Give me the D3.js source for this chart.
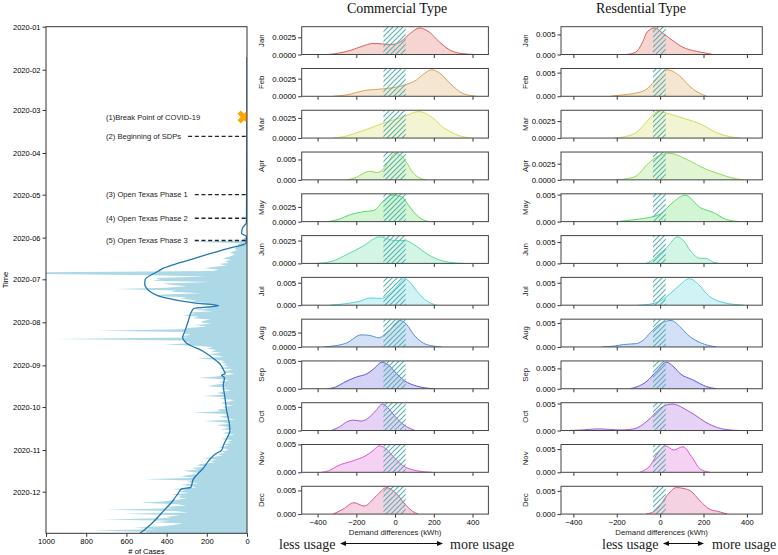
<!DOCTYPE html>
<html><head><meta charset="utf-8">
<script src="https://cdn.jsdelivr.net/npm/d3@7"></script>
<style>
body{margin:0;background:#fff;}
svg{display:block;}
</style></head><body>
<svg id="c" width="778" height="555"></svg>
<script>
// ---------------- DATA ----------------
const monthNames = ["Jan","Feb","Mar","Apr","May","Jun","Jul","Aug","Sep","Oct","Nov","Dec"];
const monthColors = ["#db5f57","#dba157","#d3db57","#91db57","#57db5f","#57dba1","#57d3db","#5791db","#5f57db","#a157db","#db57d3","#db5791"];

// daily COVID cases (left panel), one array per month
const blockStarts = ["2020-06-01","2020-07-01","2020-08-01","2020-09-01","2020-10-01","2020-11-01","2020-12-01"];
const casesJun = [12,18,25,285,30,45,40,55,60,50,70,85,60,75,95,120,80,110,90,140,100,160,210,140,170,1100,1100,470,200,460];
const casesJul = [430,470,180,420,380,300,400,655,350,380,230,420,460,300,330,250,280,200,230,150,220,190,260,170,290,260,320,240,270,180,220];
const casesAug = [230,180,260,200,290,320,750,300,320,280,330,290,950,320,300,280,410,230,170,200,150,180,130,190,140,120,250,150,110,130,100];
const casesSep = [120,90,140,70,110,130,60,100,150,243,120,90,140,110,160,194,100,130,80,120,150,110,219,100,140,60,90,130,110,70];
const casesOct = [120,100,150,130,268,110,90,140,100,60,219,120,80,150,110,90,130,70,100,120,60,110,90,130,70,100,80,120,90,140,110];
const casesNov = [90,130,110,150,120,170,218,150,190,160,230,250,200,280,240,320,260,230,290,330,250,514,270,300,240,330,280,250,370,310];
const casesDec = [340,290,380,320,350,300,360,420,530,350,300,420,360,700,360,290,620,330,400,380,715,380,460,320,368,420,560,450,765,480,520];

// smoothed trend line
const trendDates = ["2020-01-23","2020-05-05","2020-05-21","2020-05-25","2020-05-29","2020-05-31","2020-06-05","2020-06-06","2020-06-09","2020-06-14","2020-06-19","2020-06-23","2020-06-25","2020-06-27","2020-07-01","2020-07-04","2020-07-09","2020-07-14","2020-07-18","2020-07-20","2020-07-22","2020-07-24","2020-07-31","2020-08-07","2020-08-12","2020-08-16","2020-08-22","2020-08-27","2020-08-31","2020-09-04","2020-09-07","2020-09-08","2020-09-10","2020-09-15","2020-09-25","2020-10-04","2020-10-13","2020-10-18","2020-10-26","2020-10-29","2020-11-01","2020-11-04","2020-11-09","2020-11-14","2020-11-17","2020-11-22","2020-11-26","2020-11-28","2020-11-29","2020-12-02","2020-12-07","2020-12-15","2020-12-25","2020-12-31"];
const trendValues = [0,2,3,22,27,3,5,18,101,217,333,416,440,466,506,509,489,415,265,141,265,275,292,308,320,300,217,167,134,118,109,126,112,118,109,101,88,85,109,118,126,159,192,217,237,267,275,280,325,342,366,416,482,532];

const eventLabels = ["(1)Break Point of COVID-19","(2) Beginning of SDPs","(3) Open Texas Phase 1","(4) Open Texas Phase 2","(5) Open Texas Phase 3"];
const eventDates = ["2020-03-06","2020-03-20","2020-05-01","2020-05-18","2020-06-03"];
const caseTicks = [1000,800,600,400,200,0];

// KDE curves: [demand difference (kWh), density]
const commercialCurves = [
 [[-350,0],[-290,0.0002],[-230,0.0006],[-170,0.0012],[-115,0.0016],[-70,0.00155],[-20,0.00145],[30,0.0019],[80,0.0031],[125,0.00385],[170,0.0034],[230,0.0018],[280,0.0007],[340,0.00015],[420,0]],
 [[-320,0],[-250,0.0002],[-150,0.00085],[-60,0.00105],[50,0.0016],[110,0.0023],[150,0.0032],[190,0.00375],[230,0.0033],[285,0.0018],[350,0.0004],[420,0]],
 [[-320,0],[-260,0.0002],[-180,0.0008],[-60,0.00185],[50,0.0027],[120,0.00328],[195,0.0025],[250,0.0013],[285,0.0008],[330,0.0003],[390,0]],
 [[-250,0],[-200,0.0006],[-150,0.0019],[-125,0.0021],[-95,0.0018],[-60,0.0026],[-30,0.0048],[0,0.0065],[30,0.006],[55,0.0046],[95,0.0016],[130,0.0004],[165,0]],
 [[-345,0],[-290,0.0004],[-230,0.0012],[-160,0.0017],[-110,0.0019],[-60,0.0035],[-15,0.0045],[40,0.0041],[65,0.003],[95,0.0017],[130,0.0006],[175,0]],
 [[-405,0],[-330,0.0002],[-265,0.0008],[-165,0.0019],[-80,0.0029],[-40,0.0027],[0,0.0025],[50,0.0025],[110,0.0019],[160,0.0011],[215,0.0005],[280,0.00012],[355,0]],
 [[-335,0],[-260,0.0003],[-180,0.0009],[-130,0.0016],[-70,0.0015],[-30,0.0025],[10,0.0042],[50,0.0059],[85,0.0047],[115,0.003],[165,0.0009],[215,0]],
 [[-370,0],[-310,0.0002],[-250,0.0007],[-175,0.0021],[-130,0.002],[-85,0.0016],[-30,0.0029],[25,0.0046],[60,0.0039],[95,0.0022],[145,0.0007],[190,0.0002],[240,0]],
 [[-350,0],[-300,0.0004],[-265,0.0011],[-200,0.0021],[-145,0.0027],[-105,0.0037],[-70,0.00475],[-35,0.0043],[-5,0.0032],[50,0.0014],[110,0.0005],[200,0]],
 [[-330,0],[-290,0.0007],[-250,0.0018],[-215,0.0022],[-175,0.002],[-130,0.0029],[-100,0.0042],[-65,0.0056],[-30,0.0045],[0,0.003],[30,0.0017],[60,0.0008],[105,0]],
 [[-380,0],[-340,0.0003],[-300,0.0011],[-215,0.0021],[-150,0.003],[-110,0.004],[-83,0.00475],[-50,0.0043],[-25,0.0034],[40,0.0012],[110,0.0003],[190,0]],
 [[-320,0],[-270,0.001],[-212,0.0024],[-160,0.0017],[-95,0.0039],[-45,0.0056],[5,0.0044],[60,0.0017],[90,0.0006],[120,0]]
];
const residentialCurves = [
 [[-160,0],[-120,0.0004],[-105,0.0009],[-80,0.0032],[-60,0.0056],[-25,0.0066],[15,0.0052],[60,0.0034],[105,0.0018],[150,0.001],[185,0.0006],[245,0]],
 [[-230,0],[-170,0.0003],[-120,0.0006],[-65,0.0014],[-25,0.0032],[30,0.0056],[90,0.0043],[130,0.0024],[155,0.0014],[215,0]],
 [[-215,0],[-150,0.0003],[-110,0.0008],[-65,0.0023],[-10,0.0039],[60,0.0034],[120,0.0028],[185,0.0021],[260,0.0008],[320,0.0002],[370,0]],
 [[-200,0],[-150,0.0002],[-110,0.0006],[-50,0.0027],[0,0.0038],[45,0.0041],[120,0.0032],[215,0.0016],[275,0.0009],[330,0.0003],[385,0]],
 [[-200,0],[-130,0.0003],[-75,0.0006],[0,0.0014],[60,0.0036],[115,0.0049],[185,0.0026],[245,0.0017],[305,0.0004],[370,0]],
 [[-65,0],[-40,0.0006],[-15,0.0017],[30,0.0037],[80,0.0062],[110,0.0052],[140,0.0029],[185,0.0012],[210,0.0012],[245,0.0003],[270,0]],
 [[-100,0],[-50,0.0002],[-15,0.0006],[45,0.0025],[90,0.0045],[135,0.0059],[180,0.0045],[215,0.0025],[290,0.0006],[385,0]],
 [[-265,0],[-210,0.0002],[-170,0.0005],[-110,0.0007],[-75,0.0015],[-45,0.003],[0,0.0048],[50,0.0055],[90,0.0043],[125,0.0026],[185,0.0009],[260,0]],
 [[-140,0],[-100,0.0006],[-60,0.0019],[-15,0.0044],[30,0.0065],[60,0.0055],[95,0.0036],[150,0.0022],[215,0.0005],[260,0]],
 [[-425,0],[-360,0.0001],[-290,0.0003],[-230,0.0002],[-185,0.0001],[-140,0.0002],[-105,0.0005],[-45,0.0023],[0,0.0041],[55,0.0049],[135,0.0035],[230,0.0011],[300,0.0002],[370,0]],
 [[-95,0],[-70,0.0005],[-45,0.0015],[-10,0.0042],[25,0.0057],[62,0.0048],[105,0.0055],[150,0.003],[185,0.0007],[230,0]],
 [[-65,0],[-40,0.0003],[-15,0.001],[30,0.0039],[75,0.0057],[110,0.0055],[140,0.005],[185,0.0028],[230,0.001],[265,0.0006],[310,0]]
];
const commercialTickStep = [0.0025,0.0025,0.0025,0.005,0.0025,0.0025,0.005,0.0025,0.005,0.005,0.005,0.005];
const residentialTickStep = [0.005,0.005,0.0025,0.0025,0.005,0.005,0.005,0.005,0.005,0.005,0.005,0.005];
const demandTicks = [-400,-200,0,200,400];
const commercialBand = [-60,55];
const residentialBand = [-33,26];
const commercialDomain = [-482,482];
const residentialDomain = [-457,471];

// ---------------- DRAWING ----------------
const SANS = "'Liberation Sans', Arial, sans-serif";
const SERIF = "'Liberation Serif', 'Times New Roman', serif";
const svg = d3.select("#c");
const defs = svg.append("defs");
const pat = defs.append("pattern").attr("id","hatch").attr("patternUnits","userSpaceOnUse")
  .attr("width",5).attr("height",5);
pat.append("path").attr("d","M-1,1 l2,-2 M0,5 l5,-5 M4,6 l2,-2")
  .attr("stroke","#55b3b0").attr("stroke-width",1.1).attr("fill","none");

const parse = d3.timeParse("%Y-%m-%d");

// ---- left panel ----
const L = {x0:46, x1:247, y0:26.7, y1:533.3};
const xC = d3.scaleLinear().domain([1000,0]).range([L.x0,L.x1]);
const yT = d3.scaleTime().domain([parse("2020-01-01"), parse("2020-12-31")]).range([L.y0,L.y1]);

defs.append("clipPath").attr("id","clipL").append("rect")
  .attr("x",L.x0).attr("y",L.y0).attr("width",L.x1-L.x0).attr("height",L.y1-L.y0);

const blocks = [casesJun,casesJul,casesAug,casesSep,casesOct,casesNov,casesDec];
const daily = [];
blocks.forEach((arr,k)=>{
  const s = parse(blockStarts[k]);
  arr.forEach((v,i)=>daily.push({date:d3.timeDay.offset(s,i), v}));
});
const gL = svg.append("g").attr("clip-path","url(#clipL)");
gL.append("path").datum(daily)
  .attr("d", d3.area().y(d=>yT(d.date)).x0(xC(0)).x1(d=>xC(d.v)))
  .attr("fill","#add8e6");
const trend = trendDates.map((d,i)=>({date:parse(d), v:trendValues[i]}));
gL.append("path").datum(trend)
  .attr("d", d3.line().y(d=>yT(d.date)).x(d=>xC(d.v)).curve(d3.curveMonotoneY))
  .attr("fill","none").attr("stroke","#1f77b4").attr("stroke-width",1.3);

// event marker
gL.append("path")
  .attr("d", d3.symbol(d3.symbolCross, 105)())
  .attr("transform",`translate(${xC(15)},${yT(parse(eventDates[0]))}) rotate(45)`)
  .attr("fill","#ffa500");

// event labels + dashed lines
eventLabels.forEach((lab,i)=>{
  const y = yT(parse(eventDates[i]));
  const t = svg.append("text").attr("x",106).attr("y",y+2.7).text(lab)
    .attr("font-family",SANS).attr("font-size",7.6).attr("fill","#222");
  if(i>0){
    const w = t.node().getComputedTextLength();
    svg.append("line").attr("x1",106+w+7).attr("x2",L.x1).attr("y1",y).attr("y2",y)
      .attr("stroke","#222").attr("stroke-width",1.4).attr("stroke-dasharray","4,2.7");
  }
});

// left axes
const ay = svg.append("g").attr("transform",`translate(${L.x0},0)`)
  .call(d3.axisLeft(yT).ticks(d3.timeMonth.every(1)).tickFormat(d3.timeFormat("%Y-%m")).tickSize(3.5).tickPadding(2));
ay.select(".domain").remove();
ay.attr("font-family",SANS).attr("font-size",7.5);
const ax = svg.append("g").attr("transform",`translate(0,${L.y1})`)
  .call(d3.axisBottom(xC).tickValues(caseTicks).tickFormat(d3.format("d")).tickSize(3.5).tickPadding(2));
ax.select(".domain").remove();
ax.attr("font-family",SANS).attr("font-size",7.6);
svg.selectAll(".tick line").attr("stroke","#333");
svg.append("rect").attr("x",L.x0).attr("y",L.y0).attr("width",L.x1-L.x0).attr("height",L.y1-L.y0)
  .attr("fill","none").attr("stroke","#333").attr("stroke-width",1);
svg.append("text").attr("transform",`translate(8,${(L.y0+L.y1)/2}) rotate(-90)`)
  .attr("text-anchor","middle").attr("font-family",SANS).attr("font-size",7.6).text("Time");
svg.append("text").attr("x",(L.x0+L.x1)/2).attr("y",554).attr("text-anchor","middle")
  .attr("font-family",SANS).attr("font-size",7.6).text("# of Cases");

// ---- density columns ----
const TOP = 26.7, PITCH = 41.78, PH = 27.8;
function column(curves, steps, xs, band, labelX, id){
  curves.forEach((curve,i)=>{
    const top = TOP + i*PITCH, bot = top + PH;
    const maxD = d3.max(curve, d=>d[1]);
    const y = d3.scaleLinear().domain([0, maxD*1.05]).range([bot, top]);
    const cid = `clip${id}${i}`;
    defs.append("clipPath").attr("id",cid).append("rect")
      .attr("x",xs.range()[0]).attr("y",top).attr("width",xs.range()[1]-xs.range()[0]).attr("height",PH);
    const g = svg.append("g").attr("clip-path",`url(#${cid})`);
    g.append("path").datum(curve)
      .attr("d", d3.area().x(d=>xs(d[0])).y0(y(0)).y1(d=>y(d[1])).curve(d3.curveMonotoneX))
      .attr("fill",monthColors[i]).attr("fill-opacity",0.27);
    g.append("path").datum(curve)
      .attr("d", d3.line().x(d=>xs(d[0])).y(d=>y(d[1])).curve(d3.curveMonotoneX))
      .attr("fill","none").attr("stroke",monthColors[i]).attr("stroke-width",1);
    g.append("rect").attr("x",xs(band[0])).attr("width",xs(band[1])-xs(band[0]))
      .attr("y",top).attr("height",PH).attr("fill","url(#hatch)");
    const step = steps[i];
    const fmt = d3.format(step===0.0025 ? ".4f" : ".3f");
    const gy = svg.append("g").attr("transform",`translate(${xs.range()[0]},0)`)
      .call(d3.axisLeft(y).tickValues([0,step]).tickFormat(fmt).tickSize(3.5).tickPadding(2));
    gy.select(".domain").remove();
    gy.attr("font-family",SANS).attr("font-size",7.8);
    const gx = svg.append("g").attr("transform",`translate(0,${bot})`)
      .call(d3.axisBottom(xs).tickValues(demandTicks).tickSize(3.5).tickPadding(2)
        .tickFormat(i===11 ? d3.format("d") : ""));
    gx.select(".domain").remove();
    gx.attr("font-family",SANS).attr("font-size",7.6);
    gy.selectAll(".tick line").attr("stroke","#333");
    gx.selectAll(".tick line").attr("stroke","#333");
    svg.append("rect").attr("x",xs.range()[0]).attr("y",top).attr("width",xs.range()[1]-xs.range()[0]).attr("height",PH)
      .attr("fill","none").attr("stroke","#444").attr("stroke-width",1);
    svg.append("text").attr("transform",`translate(${labelX},${(top+bot)/2}) rotate(-90)`)
      .attr("text-anchor","middle").attr("font-family",SANS).attr("font-size",7.8).attr("fill","#222").text(monthNames[i]);
  });
}
const xCom = d3.scaleLinear().domain(commercialDomain).range([301.7,488.4]);
const xRes = d3.scaleLinear().domain(residentialDomain).range([561,762.3]);
column(commercialCurves, commercialTickStep, xCom, commercialBand, 264, "c");
column(residentialCurves, residentialTickStep, xRes, residentialBand, 528, "r");

// titles
svg.append("text").attr("x",397).attr("y",13).attr("text-anchor","middle")
  .attr("font-family",SERIF).attr("font-size",14).attr("fill","#111").text("Commercial Type");
svg.append("text").attr("x",641).attr("y",13).attr("text-anchor","middle")
  .attr("font-family",SERIF).attr("font-size",14).attr("fill","#111").text("Resdential Type");

// x labels
[xCom,xRes].forEach(xs=>{
  const r = xs.range();
  svg.append("text").attr("x",(r[0]+r[1])/2).attr("y",535).attr("text-anchor","middle")
    .attr("font-family",SANS).attr("font-size",7.8).attr("fill","#222").text("Demand differences (kWh)");
});

// usage arrows
function usage(lessX, a0, a1, moreX){
  const y = 543.5;
  svg.append("text").attr("x",lessX).attr("y",549).attr("font-family",SERIF).attr("font-size",14).attr("fill","#222").text("less usage");
  svg.append("text").attr("x",moreX).attr("y",549).attr("font-family",SERIF).attr("font-size",14).attr("fill","#222").text("more usage");
  svg.append("line").attr("x1",a0+5).attr("x2",a1-5).attr("y1",y).attr("y2",y).attr("stroke","#111").attr("stroke-width",1);
  svg.append("path").attr("d",`M${a0},${y} l6,-2.6 l0,5.2 Z`).attr("fill","#111");
  svg.append("path").attr("d",`M${a1},${y} l-6,-2.6 l0,5.2 Z`).attr("fill","#111");
}
usage(279, 340, 443, 450);
usage(602, 663, 704, 712);
</script>
</body></html>
